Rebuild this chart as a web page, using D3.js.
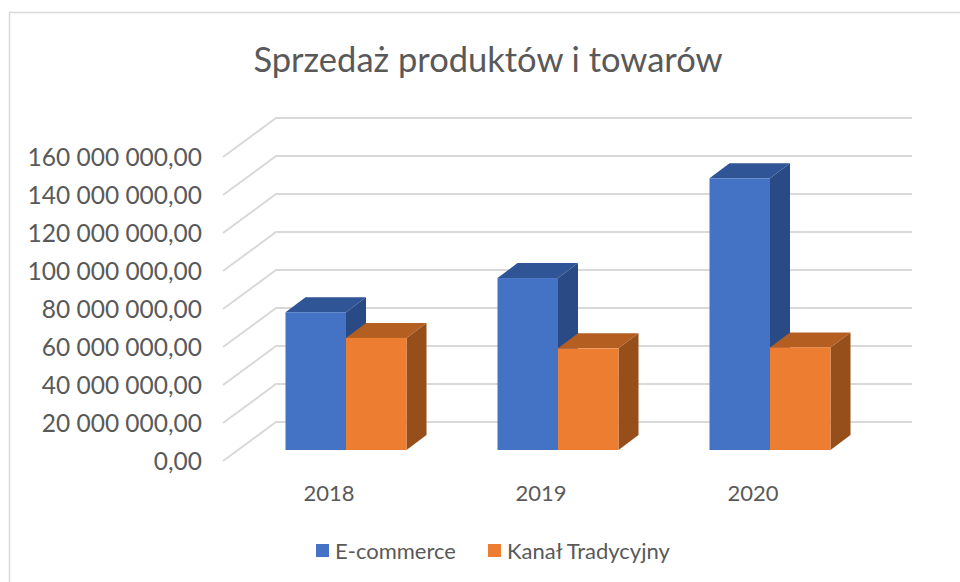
<!DOCTYPE html>
<html>
<head>
<meta charset="utf-8">
<script src="https://cdn.jsdelivr.net/npm/d3@7"></script>
<style>
  body { margin: 0; background: #fff; }
  svg { display: block; font-family: Lato, "Noto Sans", sans-serif; }
</style>
</head>
<body>
<div id="chart"></div>
<script>
// data
const years = ["2018", "2019", "2020"];
const seriesNames = ["E-commerce", "Kanał Tradycyjny"];
const ecommerce = [72.5e6, 90.5e6, 143e6];
const tradycyjny = [59e6, 53.5e6, 54e6];
const yTicks = [0, 20e6, 40e6, 60e6, 80e6, 100e6, 120e6, 140e6, 160e6];

const colors = ["#4472C4", "#ED7D31"];
const topColors = ["#2F5597", "#B55E22"];
const sideColors = ["#294A84", "#964E1B"];

const width = 960, height = 582;

const pl = d3.formatLocale({decimal: ",", thousands: " ", grouping: [3], currency: ["", " zł"]});
const fmt = pl.format(",.2f");

// oblique offsets (front plane -> back wall, bar front, bar depth)
const wall = {dx: 53, dy: -39};
const barFront = {dx: 17, dy: -11};
const barDepth = {dx: 20, dy: -15};

const x = d3.scaleBand(years, [223, 859]);
const y = d3.scaleLinear([0, 160e6], [461, 157]);
const groupW = 121;
const xs = d3.scaleBand(seriesNames, [0, groupW]);

const svg = d3.select("#chart").append("svg")
    .attr("width", width)
    .attr("height", height)
    .attr("viewBox", [0, 0, width, height]);

// outer border
svg.append("rect")
    .attr("x", 9.5).attr("y", 12.5)
    .attr("width", 1000).attr("height", 1000)
    .attr("fill", "#fff")
    .attr("stroke", "#d9d9d9")
    .attr("stroke-width", 1.5);

svg.append("text")
    .attr("x", 488).attr("y", 72)
    .attr("text-anchor", "middle")
    .attr("fill", "#595959")
    .attr("font-size", 34.5)
    .text("Sprzedaż produktów i towarów");

// gridlines: side wall diagonals + back wall
const grid = svg.append("g")
    .attr("stroke", "#d9d9d9")
    .attr("stroke-width", 2)
    .attr("fill", "none");

grid.selectAll("path")
  .data(yTicks)
  .join("path")
    .attr("d", d => {
      const x0 = x.range()[0], x1 = x.range()[1];
      return `M${x0},${y(d)}L${x0 + wall.dx},${y(d) + wall.dy}L${x1 + wall.dx},${y(d) + wall.dy}`;
    });

// y labels
svg.append("g")
    .attr("fill", "#595959")
    .attr("font-size", 24.5)
    .attr("text-anchor", "end")
  .selectAll("text")
  .data(yTicks)
  .join("text")
    .attr("x", 202)
    .attr("y", d => y(d))
    .attr("dy", "0.35em")
    .text(d => fmt(d));

// category labels
svg.append("g")
    .attr("fill", "#595959")
    .attr("font-size", 22)
    .attr("text-anchor", "middle")
  .selectAll("text")
  .data(years)
  .join("text")
    .attr("x", d => x(d) + x.bandwidth() / 2)
    .attr("y", 501)
    .text(d => d);

// bars
const rows = [];
years.forEach((yr, i) => {
  rows.push({year: yr, s: 0, value: ecommerce[i]});
  rows.push({year: yr, s: 1, value: tradycyjny[i]});
});

const bars = svg.append("g");
rows.forEach(r => {
  const left = x(r.year) + x.bandwidth() / 2 - groupW / 2 + xs(seriesNames[r.s]) + barFront.dx;
  const right = left + xs.bandwidth();
  const top = y(r.value) + barFront.dy;
  const bottom = y(0) + barFront.dy;
  const g = bars.append("g");
  // side face
  g.append("path")
      .attr("fill", sideColors[r.s])
      .attr("d", `M${right},${top}L${right + barDepth.dx},${top + barDepth.dy}L${right + barDepth.dx},${bottom + barDepth.dy}L${right},${bottom}Z`);
  // top face
  g.append("path")
      .attr("fill", topColors[r.s])
      .attr("d", `M${left},${top}L${left + barDepth.dx},${top + barDepth.dy}L${right + barDepth.dx},${top + barDepth.dy}L${right},${top}Z`);
  // front face
  g.append("rect")
      .attr("x", left).attr("y", top)
      .attr("width", right - left).attr("height", bottom - top)
      .attr("fill", colors[r.s]);
});

// legend
const legend = svg.append("g")
    .attr("font-size", 22)
    .attr("fill", "#595959");
const legendX = [316, 488];
seriesNames.forEach((name, i) => {
  legend.append("rect")
      .attr("x", legendX[i]).attr("y", 544)
      .attr("width", 13).attr("height", 13)
      .attr("fill", colors[i]);
  legend.append("text")
      .attr("x", legendX[i] + 19).attr("y", 551)
      .attr("dy", "0.35em")
      .text(name);
});
</script>
</body>
</html>
